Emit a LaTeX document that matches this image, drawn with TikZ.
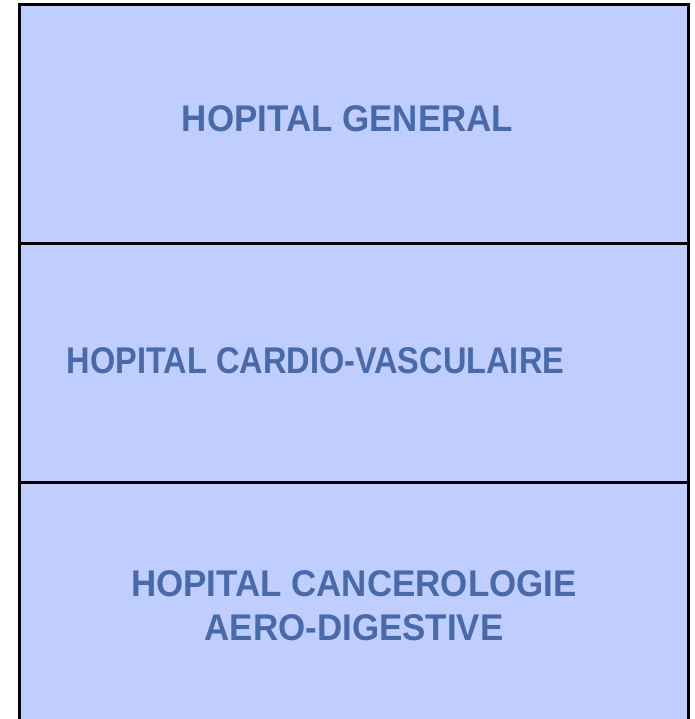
\documentclass[tikz,border=0pt]{standalone}
\usepackage{fontspec}
\setmainfont{Liberation Sans}
\newfontfamily\hosfont[FakeStretch=0.94]{Liberation Sans}
\newfontfamily\hosfontnarrow[FakeStretch=0.875]{Liberation Sans}
\usetikzlibrary{positioning}
\definecolor{hosfill}{RGB}{192,206,255}
\definecolor{hostext}{RGB}{72,106,170}
\tikzset{
  hosbox/.style={rectangle,draw=black,line width=3bp,fill=hosfill,
    minimum width=669.2bp,outer sep=0pt,inner sep=0pt},
  hoslabel/.style={text=hostext,font=\hosfont\fontsize{37.3}{45}\selectfont\bfseries,
    align=center,inner sep=0pt},
}

\begin{document}
\begin{tikzpicture}[x=1bp,y=-1bp]
  \useasboundingbox (0,0) rectangle (695,719);

  %% -- Hospital blocks --------------------------------------------------
  \node[hosbox,minimum height=238.3bp] (gen) at (354.1,123.9) {};
  \node[hosbox,minimum height=239bp,below=0pt of gen]   (cardio) {};
  \node[hosbox,minimum height=239bp,below=0pt of cardio] (cancer) {};

  %% -- Labels -----------------------------------------------------------
  \node[hoslabel,anchor=base] (lblgen)    at (347.5,132) {HOPITAL GENERAL};
  \node[hoslabel,anchor=base,font=\hosfontnarrow\fontsize{37.3}{45}\selectfont\bfseries]
    (lblcardio) at (315.5,373) {HOPITAL CARDIO-VASCULAIRE};
  \node[hoslabel,anchor=north] (lblcancer) at (354,570)
    {HOPITAL CANCEROLOGIE\\AERO-DIGESTIVE};

\end{tikzpicture}
\end{document}
